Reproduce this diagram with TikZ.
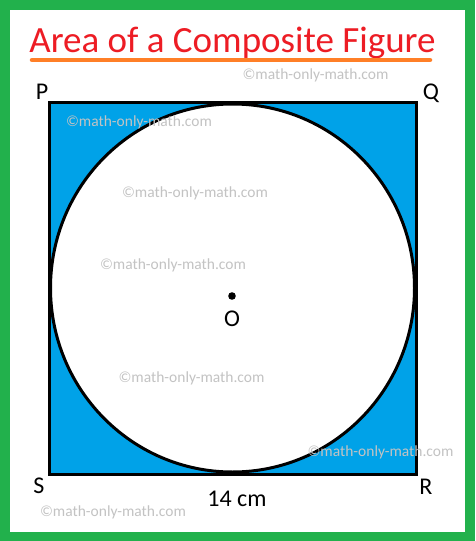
\documentclass[tikz,border=0pt]{standalone}
\usepackage{fontspec}
\setmainfont{Carlito}
\definecolor{pgreen}{HTML}{22B14C}
\definecolor{pblue}{HTML}{00A2E8}
\definecolor{pred}{HTML}{ED1C24}
\definecolor{porange}{HTML}{FF7F27}
\definecolor{wmgray}{HTML}{C3C3C3}
\begin{document}
\begin{tikzpicture}[x=1pt,y=-1pt,
  lbl/.style={font=\fontsize{24}{24}\selectfont, text=black, inner sep=0pt},
  wm/.style={font=\fontsize{15.5}{15.5}\selectfont, text=wmgray, inner sep=0pt},
  edge/.style={line width=3pt, draw=black}]
\useasboundingbox (0,0) rectangle (475,541);
\fill[white] (0,0) rectangle (475,541);
\draw[pgreen, line width=10pt] (5,5) rectangle (470,536.5);
% title
\node[font=\fontsize{37}{37}\selectfont, text=pred, inner sep=0pt, anchor=base] (title) at (232.5,52) {Area of a Composite Figure};
\coordinate (ul1) at (32,60);
\coordinate (ul2) at (430,60);
\draw[porange, line width=4.5pt, line cap=round] (ul1) -- (ul2);
% square
\coordinate (P) at (49,102);
\coordinate (Q) at (416,102);
\coordinate (R) at (416,474);
\coordinate (S) at (49,474);
\filldraw[fill=pblue, edge] (P) -- (Q) -- (R) -- (S) -- cycle;
\coordinate (O) at (232.5,288);
\filldraw[fill=white, draw=black, line width=3pt] (O) ellipse [x radius=182, y radius=184];
% watermarks
\node[wm] (w1) at (315.5,75) {©math-only-math.com};
\node[wm] (w2) at (139,122) {©math-only-math.com};
\node[wm] (w3) at (195,193) {©math-only-math.com};
\node[wm] (w4) at (173,265) {©math-only-math.com};
\node[wm] (w5) at (191.5,378) {©math-only-math.com};
\node[wm] (w6) at (380.5,452) {©math-only-math.com};
\node[wm] (w7) at (113,512) {©math-only-math.com};
% centre
\fill[black] (232,296) circle (3.8pt) coordinate (dot);
\node[lbl] (Olbl) at (232,319) {O};
% labels
\node[lbl] (Plbl) at (42,92) {P};
\node[lbl] (Qlbl) at (431,93) {Q};
\node[lbl] (Slbl) at (39,486) {S};
\node[lbl] (Rlbl) at (426,487) {R};
\node[lbl] (side) at (237,499) {14 cm};
\end{tikzpicture}
\end{document}
